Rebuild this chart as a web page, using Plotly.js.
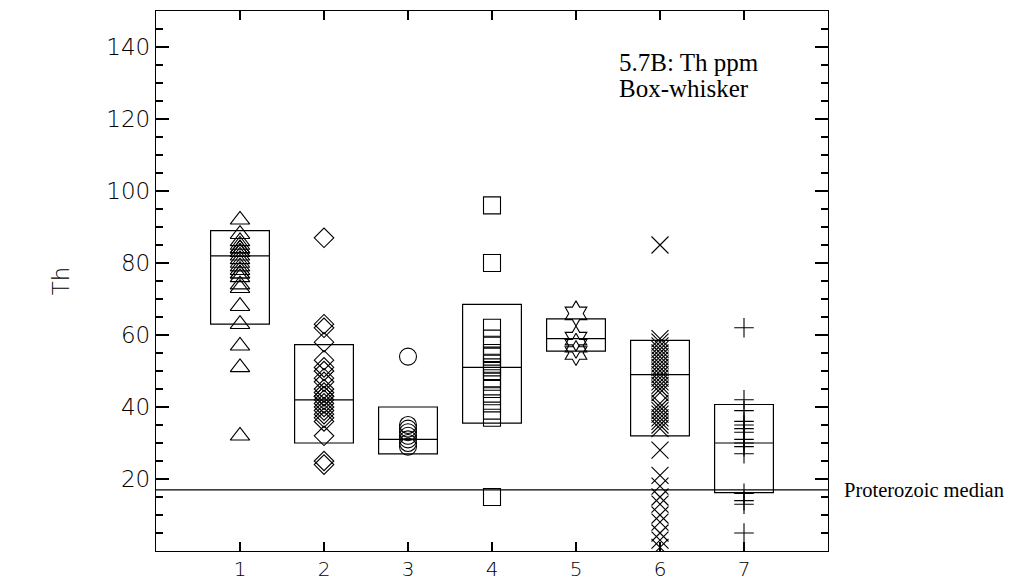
<!DOCTYPE html>
<html><head>
<script src="https://cdn.plot.ly/plotly-3.0.1.min.js"></script>
<style>body{margin:0;background:#fff}#c{width:1013px;height:580px}</style>
</head><body><div id="c"></div>
<script>
// ---- data ----
const groups = [1, 2, 3, 4, 5, 6, 7];
const g1 = [92, 88, 86, 85, 84, 84, 83, 83, 82, 81, 80, 79, 78, 77, 77, 76, 74, 73, 68, 63, 57, 51, 32];
const g2 = [87, 63, 62, 58, 53, 51, 50, 48, 47, 45, 44, 43, 43, 42, 41, 40, 39, 38, 37, 36, 32, 25, 24];
const g3 = [54, 35, 34, 33, 32, 31, 30, 29];
const g4 = [96, 80, 62, 59, 57, 55, 54, 52, 51, 50, 48, 47, 45, 43, 41, 39, 37, 15];
const g5 = [66, 59, 57, 55];
const g6 = [85, 59, 58, 57, 56, 55, 54, 53, 52, 51, 50, 49, 48, 47, 46, 45, 44, 41, 40, 39, 38, 37, 36, 35, 34, 28, 21, 18, 15, 13, 10, 8, 5, 3, 1];
const g7 = [62, 42, 39, 36, 35, 34, 33, 31, 30, 29, 27, 16, 14, 13, 5];
const boxQ1 = [63, 30, 27, 35.5, 55.5, 32, 16.2];
const boxMedian = [82, 42, 31, 51, 59, 49, 30];
const boxQ3 = [89, 57.3, 40, 68.5, 64.5, 58.5, 40.7];
const proterozoicMedian = 17;
const yTickVals = [20, 40, 60, 80, 100, 120, 140];

const series = [g1, g2, g3, g4, g5, g6, g7];
const symbols = ['triangle-up-open', 'diamond-open', 'circle-open', 'square-open', 'hexagram-open', 'x-thin-open', 'cross-thin-open'];
const sizes = [17, 15, 17, 17, 19, 17, 14];

const traces = [{
  type: 'box', x: groups, q1: boxQ1, median: boxMedian, q3: boxQ3,
  width: 0.7, boxpoints: false, line: {color: '#000', width: 1.2},
  fillcolor: 'rgba(0,0,0,0)', whiskerwidth: 0, showlegend: false, hoverinfo: 'skip'
}];
series.forEach((vals, i) => {
  traces.push({
    type: 'scatter', mode: 'markers',
    x: vals.map(() => groups[i]), y: vals,
    marker: {symbol: symbols[i], size: sizes[i], color: '#000', line: {color: '#000', width: 1.1}},
    showlegend: false, hoverinfo: 'skip'
  });
});

const axisFont = {family: 'DejaVu Sans', size: 23, color: '#000', weight: 200};
const xFont = {family: 'DejaVu Sans', size: 20, color: '#000', weight: 200};
const layout = {
  width: 1013, height: 580,
  margin: {l: 156, r: 185, t: 11, b: 29},
  paper_bgcolor: '#fff', plot_bgcolor: '#fff',
  showlegend: false,
  xaxis: {
    range: [0, 8], tickvals: groups, ticks: 'inside', ticklen: 9, tickwidth: 1.2, tickcolor: '#000',
    mirror: 'allticks', showline: true, linecolor: '#000', linewidth: 1.2,
    showgrid: false, zeroline: false, tickfont: xFont, automargin: false
  },
  yaxis: {
    range: [0, 150], tickvals: yTickVals, ticks: 'inside', ticklen: 13, tickwidth: 1.2, tickcolor: '#000',
    minor: {dtick: 5, tick0: 0, ticks: 'inside', ticklen: 7, tickwidth: 1.2, tickcolor: '#000'},
    mirror: 'allticks', showline: true, linecolor: '#000', linewidth: 1.2,
    showgrid: false, zeroline: false, tickfont: axisFont, automargin: false,
    title: {text: 'Th', font: axisFont, standoff: 30}
  },
  shapes: [{type: 'line', xref: 'paper', x0: 0, x1: 1, yref: 'y', y0: proterozoicMedian, y1: proterozoicMedian,
            line: {color: '#000', width: 1.2}}],
  annotations: [
    {xref: 'paper', yref: 'y', x: 1, y: proterozoicMedian, xanchor: 'left', yanchor: 'middle', xshift: 14,
     text: 'Proterozoic median', showarrow: false, font: {family: 'Liberation Serif', size: 20.5, color: '#000'}},
    {xref: 'paper', yref: 'paper', x: 0.686, y: 0.905, xanchor: 'left', yanchor: 'middle', align: 'left',
     text: '5.7B: Th ppm', showarrow: false, font: {family: 'Liberation Serif', size: 25, color: '#000'}},
    {xref: 'paper', yref: 'paper', x: 0.686, y: 0.857, xanchor: 'left', yanchor: 'middle', align: 'left',
     text: 'Box-whisker', showarrow: false, font: {family: 'Liberation Serif', size: 25, color: '#000'}}
  ]
};
Plotly.newPlot('c', traces, layout, {staticPlot: true});
</script></body></html>
